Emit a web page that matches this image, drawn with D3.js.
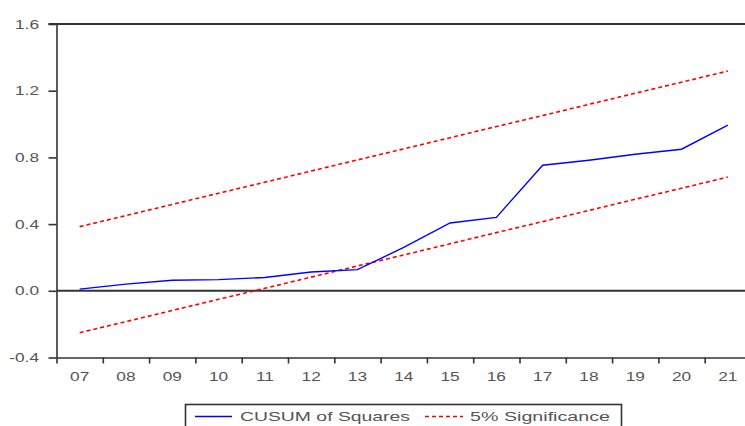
<!DOCTYPE html>
<html>
<head>
<meta charset="utf-8">
<script src="https://cdn.jsdelivr.net/npm/d3@7"></script>
<style>
  html, body { margin: 0; padding: 0; background: #fff; }
  svg { display: block; }
  text { font-family: "Liberation Sans", Arial, sans-serif; }
</style>
</head>
<body>
<svg id="chart" width="745" height="426"></svg>
<script>
// Period labels (2007–2021)
const years = ["07","08","09","10","11","12","13","14","15","16","17","18","19","20","21"];
// CUSUM of squares statistic
const cusumSq = [0.01, 0.04, 0.063, 0.067, 0.08, 0.113, 0.127, 0.26, 0.407, 0.44, 0.753, 0.783, 0.819, 0.849, 0.993];
// 5% significance bounds
const upperBound = [0.385, 0.451, 0.518, 0.585, 0.651, 0.718, 0.785, 0.851, 0.918, 0.985, 1.051, 1.118, 1.185, 1.251, 1.318];
const lowerBound = [-0.251, -0.185, -0.118, -0.051, 0.015, 0.082, 0.149, 0.215, 0.282, 0.349, 0.415, 0.482, 0.549, 0.615, 0.682];
const yTicks = [-0.4, 0.0, 0.4, 0.8, 1.2, 1.6];

const W = 745, H = 426;
const plotLeft = 56.5, plotTop = 24, plotBottom = 357.5;
const stretch = 1.33;   // wide lettering
const axisColor = "#333";
const labelColor = "#555";

const svg = d3.select("#chart");

const x = d3.scaleLinear().domain([-0.5, years.length - 0.5]).range([plotLeft, plotLeft + 15 * 46.3]);
const y = d3.scaleLinear().domain([-0.4, 1.6]).range([plotBottom, plotTop]);

// Top frame line (also the 1.6 tick)
svg.append("line")
  .attr("x1", plotLeft - 8).attr("x2", W)
  .attr("y1", y(1.6)).attr("y2", y(1.6))
  .attr("stroke", axisColor).attr("stroke-width", 2);

// Zero reference line
svg.append("line")
  .attr("x1", plotLeft).attr("x2", W)
  .attr("y1", y(0)).attr("y2", y(0))
  .attr("stroke", axisColor).attr("stroke-width", 2);

// Y axis
const yAxis = svg.append("g")
  .attr("transform", `translate(${plotLeft},0)`)
  .call(d3.axisLeft(y).tickValues(yTicks).tickSize(8).tickSizeOuter(0)
    .tickFormat(d => d.toFixed(1)));
yAxis.select(".domain").attr("stroke", axisColor).attr("stroke-width", 1.6);
yAxis.selectAll(".tick line").attr("stroke", axisColor).attr("stroke-width", 1.6);
yAxis.selectAll("text")
  .attr("x", 0)
  .attr("transform", `translate(-17.5,0) scale(${stretch},1)`)
  .attr("fill", labelColor)
  .style("font-size", "13px");

// X axis: ticks at period boundaries, labels centred in each period
const boundaries = d3.range(years.length + 1).map(i => i - 0.5);
const xAxis = svg.append("g")
  .attr("transform", `translate(0,${plotBottom})`)
  .call(d3.axisBottom(x).tickValues(boundaries).tickSize(6).tickSizeOuter(0).tickFormat(""));
xAxis.select(".domain").attr("stroke", axisColor).attr("stroke-width", 1.6);
xAxis.selectAll(".tick line").attr("stroke", axisColor).attr("stroke-width", 1.6);

svg.append("g").selectAll("text")
  .data(years)
  .join("text")
  .attr("transform", (d, i) => `translate(${x(i)},${plotBottom + 23}) scale(${stretch},1)`)
  .attr("text-anchor", "middle")
  .attr("fill", labelColor)
  .style("font-size", "13px")
  .text(d => d);

// Series
const line = d3.line().x((d, i) => x(i)).y(d => y(d));

svg.append("path")
  .datum(upperBound)
  .attr("d", line)
  .attr("fill", "none").attr("stroke", "#ff0000")
  .attr("stroke-width", 1.6).attr("stroke-dasharray", "4,3");

svg.append("path")
  .datum(lowerBound)
  .attr("d", line)
  .attr("fill", "none").attr("stroke", "#ff0000")
  .attr("stroke-width", 1.6).attr("stroke-dasharray", "4,3");

svg.append("path")
  .datum(cusumSq)
  .attr("d", line)
  .attr("fill", "none").attr("stroke", "#0000ff")
  .attr("stroke-width", 1.4);

// Legend
const lg = svg.append("g");
lg.append("rect")
  .attr("x", 185.5).attr("y", 404.5).attr("width", 436).attr("height", 30)
  .attr("fill", "#fff").attr("stroke", axisColor).attr("stroke-width", 1.6);
lg.append("line")
  .attr("x1", 195).attr("x2", 232).attr("y1", 416.5).attr("y2", 416.5)
  .attr("stroke", "#0000ff").attr("stroke-width", 1.4);
lg.append("text")
  .attr("x", 240).attr("y", 421)
  .attr("textLength", 170).attr("lengthAdjust", "spacingAndGlyphs")
  .attr("fill", labelColor).style("font-size", "13.5px")
  .text("CUSUM of Squares");
lg.append("line")
  .attr("x1", 425).attr("x2", 463).attr("y1", 416.5).attr("y2", 416.5)
  .attr("stroke", "#ff0000").attr("stroke-width", 1.6).attr("stroke-dasharray", "4,3");
lg.append("text")
  .attr("x", 470).attr("y", 421)
  .attr("textLength", 140).attr("lengthAdjust", "spacingAndGlyphs")
  .attr("fill", labelColor).style("font-size", "13.5px")
  .text("5% Significance");
</script>
</body>
</html>
